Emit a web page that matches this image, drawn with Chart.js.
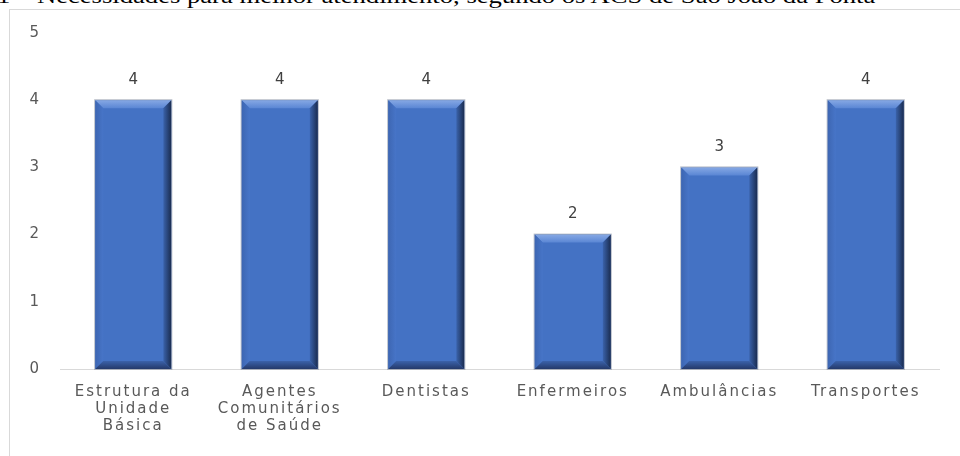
<!DOCTYPE html>
<html>
<head>
<meta charset="utf-8">
<script src="https://cdn.jsdelivr.net/npm/chart.js@4"></script>
<style>
  html, body { margin: 0; padding: 0; background: #fff; overflow: hidden; }
  #wrap { position: relative; width: 960px; height: 456px; overflow: hidden; }
  #title { position: absolute; left: -3px; top: -17px; white-space: nowrap;
           font-family: "Liberation Serif", "Times New Roman", serif; font-size: 22px; color: #000;
           transform: scaleX(1.21); transform-origin: left top; }
  #frame { position: absolute; left: 9px; top: 9px; width: 980px; height: 480px;
           border-left: 1px solid #d9d9d9; border-top: 1px solid #d9d9d9; pointer-events: none; }
  canvas { position: absolute; left: 0; top: 0; }
</style>
</head>
<body>
<div id="wrap">
  <div id="title">1 – Necessidades para melhor atendimento, segundo os ACS de São João da Ponta</div>
  <div id="frame"></div>
  <canvas id="c" width="960" height="456"></canvas>
</div>
<script>
const categories = [
  ["Estrutura da", "Unidade", "Básica"],
  ["Agentes", "Comunitários", "de Saúde"],
  "Dentistas",
  "Enfermeiros",
  "Ambulâncias",
  "Transportes"
];
const values = [4, 4, 4, 2, 3, 4];
const yTicks = [0, 1, 2, 3, 4, 5];

const spacingPlugin = {
  id: 'spacing',
  beforeDraw(chart) { chart.ctx.letterSpacing = '2px'; }
};

const bevelPlugin = {
  id: 'bevel',
  afterDatasetsDraw(chart) {
    const ctx = chart.ctx;
    const meta = chart.getDatasetMeta(0);
    meta.data.forEach(bar => {
      const w = bar.width;
      const l = bar.x - w / 2, r = bar.x + w / 2, t = bar.y, b = bar.base;
      const bv = 8;
      ctx.save();
      let g = ctx.createLinearGradient(0, t, 0, t + bv);
      g.addColorStop(0, '#86a8e4'); g.addColorStop(1, '#5a86d4');
      ctx.fillStyle = g;
      ctx.beginPath(); ctx.moveTo(l, t); ctx.lineTo(r, t); ctx.lineTo(r - bv, t + bv); ctx.lineTo(l + bv, t + bv); ctx.closePath(); ctx.fill();
      g = ctx.createLinearGradient(l, 0, l + bv, 0);
      g.addColorStop(0, '#3d66b2'); g.addColorStop(1, '#4775c8');
      ctx.fillStyle = g;
      ctx.beginPath(); ctx.moveTo(l, t); ctx.lineTo(l + bv, t + bv); ctx.lineTo(l + bv, b - bv); ctx.lineTo(l, b); ctx.closePath(); ctx.fill();
      g = ctx.createLinearGradient(r - bv, 0, r, 0);
      g.addColorStop(0, '#3a62aa'); g.addColorStop(1, '#1a2c50');
      ctx.fillStyle = g;
      ctx.beginPath(); ctx.moveTo(r, t); ctx.lineTo(r, b); ctx.lineTo(r - bv, b - bv); ctx.lineTo(r - bv, t + bv); ctx.closePath(); ctx.fill();
      g = ctx.createLinearGradient(0, b - bv, 0, b);
      g.addColorStop(0, '#3b62aa'); g.addColorStop(1, '#24396a');
      ctx.fillStyle = g;
      ctx.beginPath(); ctx.moveTo(l, b); ctx.lineTo(l + bv, b - bv); ctx.lineTo(r - bv, b - bv); ctx.lineTo(r, b); ctx.closePath(); ctx.fill();
      ctx.strokeStyle = 'rgba(120,130,150,0.5)';
      ctx.lineWidth = 1;
      ctx.strokeRect(l - 0.5, t - 0.5, w + 1, b - t + 1);
      ctx.restore();
    });
  }
};

const labelPlugin = {
  id: 'valueLabels',
  afterDatasetsDraw(chart) {
    const ctx = chart.ctx;
    const meta = chart.getDatasetMeta(0);
    ctx.save();
    ctx.letterSpacing = '0px';
    ctx.font = '15px "DejaVu Sans"';
    ctx.fillStyle = '#404040';
    ctx.textAlign = 'center';
    ctx.textBaseline = 'middle';
    meta.data.forEach((bar, i) => {
      ctx.fillText(String(values[i]), bar.x, bar.y - 20);
    });
    ctx.restore();
  }
};

new Chart(document.getElementById('c'), {
  type: 'bar',
  data: {
    labels: categories,
    datasets: [{
      data: values,
      backgroundColor: '#4472c4',
      borderWidth: 0,
      barPercentage: 0.52,
      categoryPercentage: 1.0
    }]
  },
  options: {
    responsive: false,
    animation: false,
    layout: { padding: { top: 33, right: 21, left: 0, bottom: 0 } },
    plugins: { legend: { display: false }, tooltip: { enabled: false } },
    scales: {
      x: {
        grid: { display: false, drawTicks: false },
        border: { display: true, color: '#d9d9d9' },
        ticks: { color: '#595959', font: { family: 'DejaVu Sans', size: 15, lineHeight: 1.13 }, padding: 15, maxRotation: 0, autoSkip: false },
        afterFit(s) { s.height = 87; }
      },
      y: {
        min: 0, max: 5,
        grid: { display: false, drawTicks: false },
        border: { display: false },
        afterBuildTicks(s) { s.ticks = yTicks.map(v => ({ value: v })); },
        ticks: { color: '#595959', font: { family: 'DejaVu Sans', size: 15 }, padding: 19 },
        afterFit(s) { s.width = 60; }
      }
    }
  },
  plugins: [spacingPlugin, bevelPlugin, labelPlugin]
});
</script>
</body>
</html>
